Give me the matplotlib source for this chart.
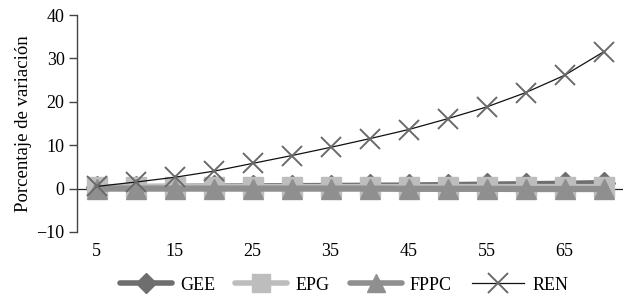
import matplotlib
matplotlib.use("Agg")
import matplotlib.pyplot as plt
from matplotlib.lines import Line2D

x = [5, 10, 15, 20, 25, 30, 35, 40, 45, 50, 55, 60, 65, 70]
gee = [0.4, 0.45, 0.5, 0.55, 0.6, 0.65, 0.7, 0.75, 0.8, 0.9, 1.0, 1.1, 1.2, 1.35]
epg = [0.3, 0.3, 0.3, 0.3, 0.3, 0.3, 0.3, 0.3, 0.3, 0.3, 0.3, 0.3, 0.3, 0.3]
fppc = [0.0, 0.0, 0.0, 0.0, 0.0, 0.0, 0.0, 0.0, -0.05, -0.05, -0.05, -0.1, -0.1, -0.1]
ren = [0.5, 1.5, 2.6, 4.0, 5.8, 7.6, 9.5, 11.5, 13.6, 16.1, 18.8, 22.1, 26.1, 31.5]
xticks = [5, 15, 25, 35, 45, 55, 65]
yticks = [-10, 0, 10, 20, 30, 40]

plt.rcParams['font.family'] = ['Liberation Serif', 'DejaVu Serif']

fig = plt.figure(figsize=(6.23, 2.97), dpi=100)
ax = fig.add_axes([77/623, 1-232/297, (623-77)/623, (232-15)/297])

c_gee = '#6e6e6e'
c_epg = '#bdbdbd'
c_fppc = '#8f8f8f'
c_ren_m = '#6a6a6a'

ax.axhline(0, color='#222222', lw=0.9, zorder=1)
ax.plot(x, gee, color=c_gee, lw=4, marker='D', ms=11, mec=c_gee, mfc=c_gee, zorder=2, solid_capstyle='butt')
ax.plot(x, epg, color=c_epg, lw=4.5, marker='s', ms=14, mec=c_epg, mfc=c_epg, zorder=3, solid_capstyle='butt')
ax.plot(x, fppc, color=c_fppc, lw=4.5, marker='^', ms=15, mec=c_fppc, mfc=c_fppc, zorder=4, solid_capstyle='butt')
ax.plot(x, ren, color='#111111', lw=0.9, zorder=5)
ax.plot(x, ren, ls='none', marker='x', ms=14, mew=1.4, color=c_ren_m, zorder=6)

ax.set_xlim(2.5, 72.5)
ax.set_ylim(-10, 40)
ax.set_xticks(xticks)
ax.set_xticklabels([str(v) for v in xticks], fontsize=13)
ax.set_yticks(yticks)
ax.set_yticklabels(['\u221210', '0', '10', '20', '30', '40'], fontsize=13)
ax.tick_params(axis='x', length=0, pad=8)
ax.tick_params(axis='y', length=6, width=1, color='#444444', direction='out', pad=3)
for s in ['top', 'right', 'bottom']:
    ax.spines[s].set_visible(False)
ax.spines['left'].set_color('#444444')
ax.spines['left'].set_linewidth(1)
ax.set_ylabel('Porcentaje de variación', fontsize=13.5, labelpad=3)

handles = [
    Line2D([], [], color=c_gee, lw=4, marker='D', ms=10, solid_capstyle='round'),
    Line2D([], [], color=c_epg, lw=4, marker='s', ms=13, solid_capstyle='round'),
    Line2D([], [], color=c_fppc, lw=4, marker='^', ms=13, solid_capstyle='round'),
    Line2D([], [], color='#111111', lw=0.9, marker='x', ms=14, mew=1.4, mec=c_ren_m),
]
fig.legend(handles, ['GEE', 'EPG', 'FPPC', 'REN'], loc='center', bbox_to_anchor=(0.552, 0.04),
           ncol=4, frameon=False, fontsize=13, handlelength=2.9, columnspacing=1.1, handletextpad=0.45)

fig.savefig('out.png', dpi=100)
